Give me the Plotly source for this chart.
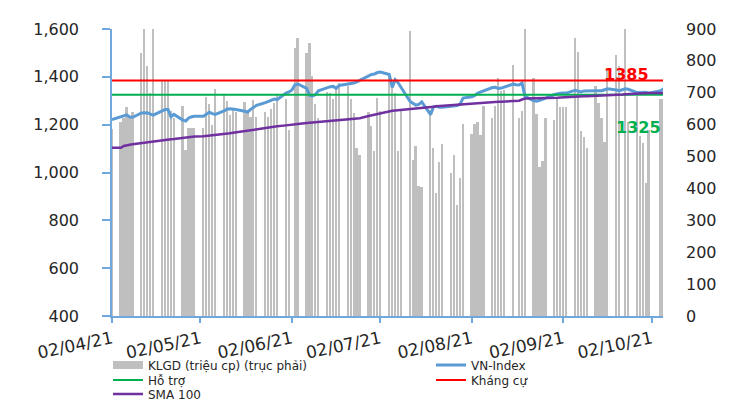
import plotly.graph_objects as go

# ---- data -------------------------------------------------------------
MONTH_DAYS = {
    4: [2, 5, 6, 7, 8, 9, 12, 13, 14, 15, 16, 19, 20, 21, 22, 23, 26, 27, 28, 29, 30],
    5: [3, 4, 5, 6, 7, 10, 11, 12, 13, 14, 17, 18, 19, 20, 21, 24, 25, 26, 27, 28, 31],
    6: [1, 2, 3, 4, 7, 8, 9, 10, 11, 14, 15, 16, 17, 18, 21, 22, 23, 24, 25, 28, 29, 30],
    7: [1, 2, 5, 6, 7, 8, 9, 12, 13, 14, 15, 16, 19, 20, 21, 22, 23, 26, 27, 28, 29, 30],
    8: [2, 3, 4, 5, 6, 9, 10, 11, 12, 13, 16, 17, 18, 19, 20, 23, 24, 25, 26, 27, 30, 31],
    9: [1, 2, 3, 6, 7, 8, 9, 10, 13, 14, 15, 16, 17, 20, 21, 22, 23, 24, 27, 28, 29, 30],
    10: [1, 4, 5, 6],
}
DATES = [f"2021-{m:02d}-{d:02d}" for m, days in MONTH_DAYS.items() for d in days]

# KLGD (trieu cp) - right axis
VOLUME = [
    586, 608, 620, 655, 625, 640, 825, 950, 785, 700, 950, 737, 741, 740, 643, 620, 658, 521, 590, 590, 590,
    590, 686, 665, 600, 712, 694, 673, 631, 645, 640, 671, 637, 624, 677, 624, 640, 624, 650, 668, 697, 680,
    583, None, 840, 872, 825, 856, 752, 666, 620, 702, 699, 680, 714, 730, 720, 680, 636, 527, 506, 640, 596, 517,
    683, 642, 760, 729, 700, 517, 646, 894, 489, 533, 408, 406, 646, 527, 386, 482, 540, 448, 506, 349, 433, 603,
    572, 603, 608, 569, 660, 621, 660, 746, 705, 710, 788, None, 621, 643, 950, 746, 634, 467, 486, 621, 616, 679,
    654, 654, 654, 872, 827, 579, 561, 527, 720, 668, 621, 545, 770, 817, 785, None, 950, 608, 691, 563, 544, 417,
    582, None, 680, 680,
]

VNINDEX = [
    1221, 1234, 1238, 1241, 1232, 1231, 1249, 1251, 1250, 1244, 1240, 1258, 1263, 1263, 1233, 1243, 1219, 1215, 1228, 1233, 1235,
    1235, 1245, 1252, 1246, 1243, 1258, 1265, 1266, 1263, 1263, 1256, 1253, 1264, 1274, 1281, 1292, 1297, 1305, 1307, 1305, 1332,
    1337, 1345, 1366, 1370, 1352, 1322, 1320, 1326, 1342, 1357, 1359, 1360, 1352, 1364, 1370, 1370, 1374, 1379, 1385, 1406, 1410, 1412,
    1418, 1420, 1410, 1356, 1388, 1375, 1355, 1298, 1290, 1282, 1285, 1295, 1242, 1275, 1277, 1273, 1273, 1276, 1277, 1280, 1286, 1311,
    1317, 1322, 1332, 1337, 1343, 1355, 1356, 1351, 1353, 1358, 1370, 1367, 1366, 1374, 1318, 1300, 1298, 1302, 1306, 1311, 1326, 1330,
    1331, 1332, 1332, 1344, 1342, 1337, 1341, 1342, 1342, 1342, 1342, 1346, 1350, 1345, 1342, 1346, 1350, 1348, 1334, 1334, 1336, 1335,
    1332, 1338, 1342, 1350,
]

SMA100 = [
    1103, 1103, 1111, 1115, 1116, 1118, 1123, 1126, 1128, 1130, 1132, 1136, 1137, 1138, 1139, 1140, 1145, 1147, 1149, 1151, 1151,
    1152, 1153, 1154, 1155, 1156, 1161, 1162, 1164, 1166, 1168, 1174, 1176, 1178, 1179, 1181, 1186, 1188, 1190, 1192, 1193, 1197,
    1199, 1200, 1201, 1203, 1207, 1208, 1209, 1210, 1211, 1213, 1214, 1215, 1216, 1217, 1221, 1222, 1224, 1225, 1227, 1236, 1239, 1242,
    1244, 1247, 1256, 1258, 1259, 1260, 1261, 1266, 1267, 1268, 1269, 1271, 1274, 1275, 1277, 1278, 1280, 1283, 1284, 1285, 1286, 1287,
    1289, 1290, 1291, 1292, 1292, 1295, 1295, 1296, 1296, 1297, 1298, 1298, 1300, 1305, 1309, 1310, 1310, 1310, 1311, 1311, 1313, 1313,
    1314, 1315, 1315, 1317, 1318, 1318, 1319, 1319, 1320, 1321, 1321, 1322, 1322, 1324, 1325, 1326, 1327, 1328, 1330, 1331, 1331, 1332,
    1332, 1332, 1332, 1332,
]

SUPPORT = 1325
RESISTANCE = 1385

LEFT_TICKS = [400, 600, 800, 1000, 1200, 1400, 1600]
RIGHT_TICKS = [0, 100, 200, 300, 400, 500, 600, 700, 800, 900]

assert len(DATES) == len(VOLUME) == len(VNINDEX) == len(SMA100)

# ---- figure -----------------------------------------------------------
FONT = "DejaVu Sans"
AXIS_BLUE = "#6FA8DC"
DAY_MS = 86400000
W, H = 736, 403
ML, MR, MT, MB = 104, 81, 21, 95
PW, PH = W - ML - MR, H - MT - MB


def px_x(px):
    return (px - ML) / PW


def px_y(py):
    return (H - MB - py) / PH


fig = go.Figure()

fig.add_trace(go.Bar(
    x=DATES, y=VOLUME, yaxis="y", name="KLGD (triệu cp) (trục phải)",
    marker=dict(color="#BFBFBF", line=dict(width=0)),
    width=[0.6 * DAY_MS] * len(DATES), showlegend=False,
))
# legend stand-in for the bars (wide grey swatch)
fig.add_trace(go.Scatter(
    x=[None], y=[None], yaxis="y2", mode="lines", name="KLGD (triệu cp) (trục phải)",
    line=dict(color="#BFBFBF", width=8), legend="legend",
))
fig.add_trace(go.Scatter(
    x=DATES, y=VNINDEX, yaxis="y2", mode="lines", name="VN-Index",
    line=dict(color="#5B9BD5", width=3), legend="legend2",
))
fig.add_trace(go.Scatter(
    x=DATES, y=[SUPPORT] * len(DATES), yaxis="y2", mode="lines", name="Hỗ trợ",
    line=dict(color="#00B050", width=2), legend="legend3",
))
fig.add_trace(go.Scatter(
    x=DATES, y=[RESISTANCE] * len(DATES), yaxis="y2", mode="lines", name="Kháng cự",
    line=dict(color="#FF0000", width=2), legend="legend4",
))
fig.add_trace(go.Scatter(
    x=DATES, y=SMA100, yaxis="y2", mode="lines", name="SMA 100",
    line=dict(color="#7030A0", width=2.5), legend="legend5",
))

fig.add_annotation(
    text=f"<b>{RESISTANCE}</b>", xref="paper", x=px_x(643), yref="paper", y=px_y(55),
    showarrow=False, font=dict(family=FONT, size=16, color="#FF0000"),
)
fig.add_annotation(
    text=f"<b>{SUPPORT}</b>", xref="paper", x=px_x(655), yref="paper", y=px_y(108),
    showarrow=False, font=dict(family=FONT, size=16, color="#00B050"),
)


def leg(px, py):
    return dict(
        x=px_x(px), y=px_y(py), xanchor="left", yanchor="middle",
        font=dict(family=FONT, size=12, color="#262626"),
        bgcolor="rgba(0,0,0,0)", borderwidth=0,
    )


fig.update_layout(
    width=W, height=H,
    margin=dict(l=ML, r=MR, t=MT, b=MB, autoexpand=False),
    paper_bgcolor="white", plot_bgcolor="white",
    font=dict(family=FONT, size=14, color="#262626"),
    bargap=0,
    xaxis=dict(
        type="date", range=["2021-04-02", "2021-10-05 19:00"],
        tick0="2021-04-02", dtick="M1", tickformat="%d/%m/%y", tickangle=-12,
        ticks="outside", ticklen=5, tickcolor=AXIS_BLUE, tickwidth=1.5,
        showline=True, linecolor=AXIS_BLUE, linewidth=1.5,
        showgrid=False, zeroline=False, tickfont=dict(size=17),
        automargin=False,
    ),
    yaxis=dict(
        side="right", range=[0, 900], tickvals=RIGHT_TICKS,
        showline=False, ticks="", showgrid=False, zeroline=False,
        ticklabelstandoff=22, tickfont=dict(size=16), automargin=False,
    ),
    yaxis2=dict(
        side="left", overlaying="y", range=[400, 1600], tickvals=LEFT_TICKS,
        tickformat=",", showline=True, linecolor=AXIS_BLUE, linewidth=1.5,
        ticks="outside", ticklen=8, tickcolor=AXIS_BLUE, tickwidth=1.5,
        showgrid=False, zeroline=False, ticklabelstandoff=20, tickfont=dict(size=16),
        automargin=False,
    ),
    legend=leg(100, 357),
    legend2=leg(423, 357),
    legend3=leg(100, 372),
    legend4=leg(423, 372),
    legend5=leg(100, 386),
)

fig.write_html("out.html")
